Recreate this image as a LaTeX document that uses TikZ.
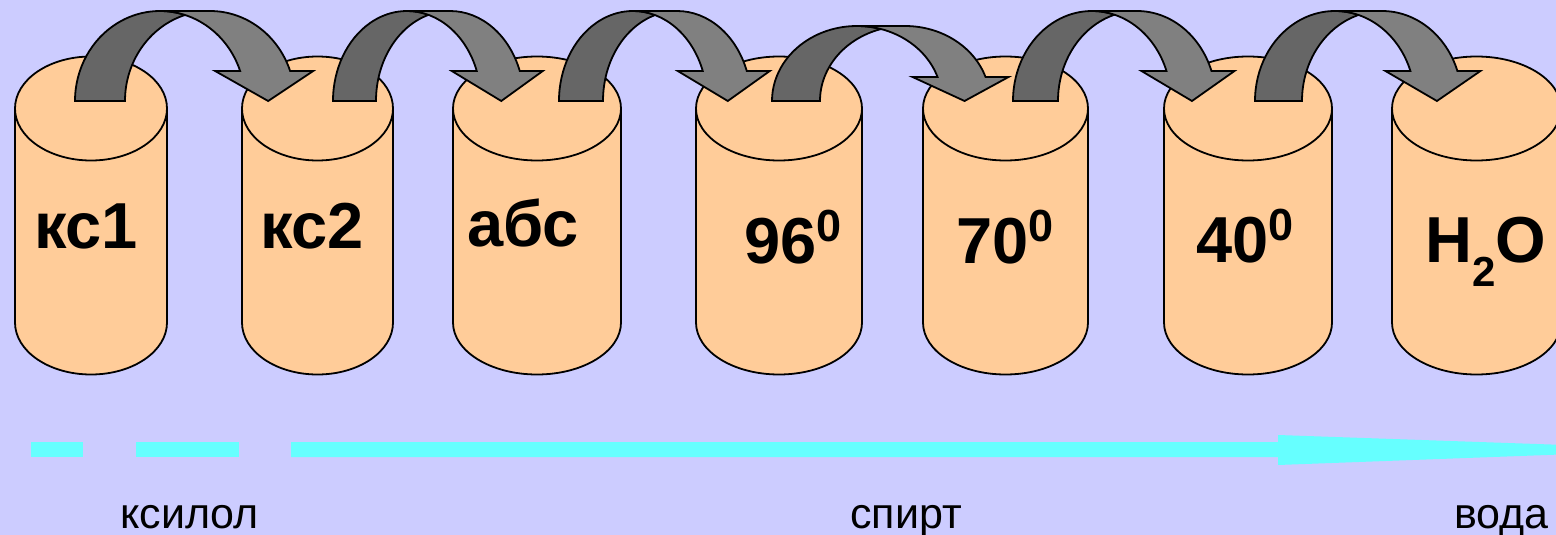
\documentclass[tikz,border=0pt]{standalone}
\usepackage{fontspec}
\setmainfont{Liberation Sans}
\definecolor{bgcol}{HTML}{CCCCFF}
\definecolor{cylcol}{HTML}{FFCC99}
\definecolor{darkgr}{HTML}{666666}
\definecolor{lightgr}{HTML}{808080}
\definecolor{cyanline}{HTML}{66FFFF}
\tikzset{
  cylfill/.style={fill=cylcol},
  cylline/.style={draw=black, line width=1.8pt},
  darkband/.style={fill=darkgr, draw=black, line width=1.8pt, line join=miter},
  lightband/.style={fill=lightgr, draw=black, line width=1.8pt, line join=miter},
  biglbl/.style={inner sep=0pt, font=\fontsize{65}{70}\selectfont\bfseries, anchor=base west},
  smalllbl/.style={inner sep=0pt, font=\fontsize{43}{47}\selectfont, anchor=base west},
  cyanbar/.style={fill=cyanline, draw=none}
}
\newcommand\supnum[1]{\raisebox{22pt}{\fontsize{45}{45}\selectfont #1}}
\newcommand\subnum[1]{\raisebox{-24pt}{\fontsize{42}{42}\selectfont #1}}
% cylinder: #1 left x, #2 right x
\newcommand\drawcyl[2]{%
  \pgfmathsetmacro\cylrx{(#2-#1)/2}%
  \pgfmathsetmacro\cylcx{(#2+#1)/2}%
  \fill[cylfill] (#1,108.5) -- (#1,322.5) arc[start angle=180,end angle=0,x radius=\cylrx,y radius=52] -- (#2,108.5) arc[start angle=0,end angle=-180,x radius=\cylrx,y radius=52] -- cycle;
  \draw[cylline] (#1,108.5) -- (#1,322.5) arc[start angle=180,end angle=0,x radius=\cylrx,y radius=52] -- (#2,108.5);
  \draw[cylline] (\cylcx,108.5) ellipse[x radius=\cylrx,y radius=52];
}
% curved arrow: #1 L, #2 shaft width, #3 rx, #4 ry, #5 head base drop
\newcommand\bendarrow[5]{%
  \pgfmathsetmacro\bcA{#1+#3}%
  \pgfmathsetmacro\bcB{#1+#3+#2}%
  \pgfmathsetmacro\bphi{acos(#2/(2*#3))}%
  \pgfmathsetmacro\bpsi{asin(#5/#4)}%
  \pgfmathsetmacro\bxin{\bcA+#3*cos(\bpsi)}%
  \pgfmathsetmacro\bxout{\bcB+#3*cos(\bpsi)}%
  \pgfmathsetmacro\bxtip{(\bxin+\bxout)/2+3}%
  \pgfmathsetmacro\btop{101-#4}%
  \pgfmathsetmacro\bwy{101-#5}%
  \draw[darkband] (#1,101) arc[start angle=180,end angle={360-\bphi},x radius=#3,y radius=#4]
     arc[start angle={180+\bphi},end angle=180,x radius=#3,y radius=#4] -- cycle;
  \draw[lightband] (\bcA,\btop) -- (\bcB,\btop)
     arc[start angle=270,end angle={360-\bpsi},x radius=#3,y radius=#4]
     -- (\bxout+23,\bwy) -- (\bxtip,101) -- (\bxin-25,\bwy) -- (\bxin,\bwy)
     arc[start angle={360-\bpsi},end angle=270,x radius=#3,y radius=#4] -- cycle;
}
\begin{document}
\begin{tikzpicture}[x=1pt,y=-1pt]
\useasboundingbox (0,0) rectangle (1556,535);
\clip (0,0) rectangle (1556,535);
\fill[bgcol] (0,0) rectangle (1556,535);
% cylinders
\drawcyl{15}{167}
\drawcyl{242}{393}
\drawcyl{453}{621}
\drawcyl{696}{862}
\drawcyl{923}{1088}
\drawcyl{1164}{1332}
\drawcyl{1392}{1561}
% curved arrows
\bendarrow{75}{50}{85}{90}{30}
\bendarrow{333}{43}{74}{90}{30}
\bendarrow{559}{44}{74}{90}{30}
\bendarrow{772}{48}{85}{75}{24}
\bendarrow{1013}{45}{79}{90}{30}
\bendarrow{1255}{47}{80}{90}{30}
% labels
\node[biglbl] (t1) at (34,248) {кс1};
\node[biglbl] (t2) at (260,248) {кс2};
\node[biglbl] (t3) at (467,246) {абс};
\node[biglbl] (t4) at (744,263) {96\supnum{0}};
\node[biglbl] (t5) at (956,263) {70\supnum{0}};
\node[biglbl] (t6) at (1196,262) {40\supnum{0}};
\node[biglbl] (t7) at (1425,262) {H\subnum{2}O};
% cyan bar
\fill[cyanbar] (31,442) rectangle (83,457);
\fill[cyanbar] (136,442) rectangle (239,457);
\fill[cyanbar] (291,442) -- (1278,442) -- (1278,435) -- (1695,449.5) -- (1278,465) -- (1278,457) -- (291,457) -- cycle;
% bottom labels
\node[smalllbl] (b1) at (120,528) {ксилол};
\node[smalllbl] (b2) at (850,528) {спирт};
\node[smalllbl] (b3) at (1454,528) {вода};
\end{tikzpicture}
\end{document}
